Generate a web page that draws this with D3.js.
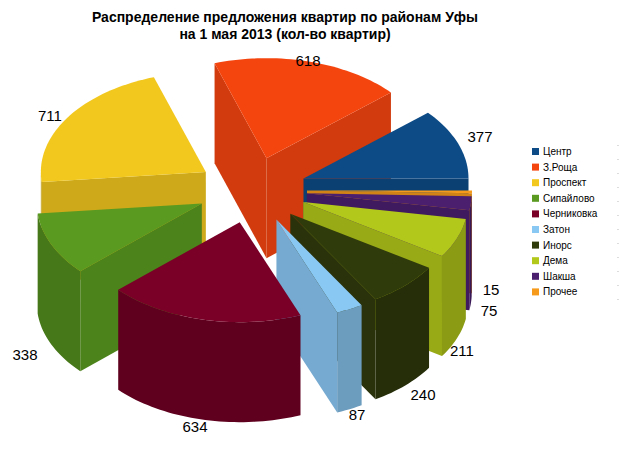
<!DOCTYPE html>
<html><head><meta charset="utf-8">
<script src="https://cdn.jsdelivr.net/npm/d3@7"></script>
<style>body{margin:0;background:#fff}</style>
</head><body>
<svg id="chart" width="623" height="454"></svg>
<script>
const districts = ["Центр", "З.Роща", "Проспект", "Сипайлово", "Черниковка", "Затон", "Инорс", "Дема", "Шакша", "Прочее"];
const flats = [377, 618, 711, 338, 634, 87, 240, 211, 75, 15];
const palette = ["#0d4b86", "#f5450f", "#f2c81e", "#5a9a20", "#7a0027", "#8ac8f4", "#303b0c", "#b2c81a", "#4b1f6e", "#f59a1a"];

const svg = d3.select("#chart");
const cx = 252, cy = 190, rx = 165, ry = 100, depth = 100, boom = 55;

const color = d3.scaleOrdinal().domain(districts).range(palette);

// angles go counter-clockwise from east, in radians
const pie = d3.pie().sort(null).value(d => d.v).startAngle(0).endAngle(2 * Math.PI);
const slices = pie(districts.map((n, i) => ({n: n, v: flats[i]})));

slices.forEach(s => {
    s.mid = (s.startAngle + s.endAngle) / 2;
    s.ox = cx + boom * Math.cos(s.mid);
    s.oy = cy - boom * 0.6 * Math.sin(s.mid);
});

function pt(s, a, dz) {
    return [s.ox + rx * Math.cos(a), s.oy - ry * Math.sin(a) + (dz || 0)];
}
function arcPts(s, a0, a1, dz) {
    const n = Math.max(2, Math.ceil((a1 - a0) / 0.03));
    return d3.range(n + 1).map(k => pt(s, a0 + (a1 - a0) * k / n, dz));
}
const line = d3.line();

// back slices first
const order = slices.slice().sort((a, b) => a.oy - ry * Math.sin(a.mid) - (b.oy - ry * Math.sin(b.mid)));

order.forEach(s => {
    const c = color(s.data.n);
    const side = d3.color(c).darker(0.7);
    const g = svg.append("g");
    // radial walls that face the viewer
    [[s.startAngle, s.startAngle - Math.PI / 2], [s.endAngle, s.endAngle + Math.PI / 2]].forEach(([a, nrm]) => {
        if (Math.sin(nrm) < 0) {
            const p = pt(s, a), q = pt(s, a, depth);
            g.append("path")
                .attr("d", line([[s.ox, s.oy], p, q, [s.ox, s.oy + depth]]) + "Z")
                .attr("fill", d3.color(c).darker(0.45));
        }
    });
    // outer wall, front half only
    const a0 = Math.max(s.startAngle, Math.PI), a1 = Math.min(s.endAngle, 2 * Math.PI);
    if (a1 > a0) {
        const pts = arcPts(s, a0, a1, 0).concat(arcPts(s, a0, a1, depth).reverse());
        g.append("path").attr("d", line(pts) + "Z").attr("fill", side);
    }
    // top
    const top = [[s.ox, s.oy]].concat(arcPts(s, s.startAngle, s.endAngle, 0));
    g.append("path").attr("d", line(top) + "Z").attr("fill", c);
});

// value labels
const labelPos = [[480, 138], [308, 62], [50, 117], [25, 356], [195, 428], [357, 416], [423, 396], [462, 352], [489, 312], [491, 291]];
svg.selectAll(".val").data(slices).enter().append("text")
    .attr("class", "val")
    .attr("x", (d, i) => labelPos[i][0])
    .attr("y", (d, i) => labelPos[i][1])
    .attr("text-anchor", "middle")
    .attr("dominant-baseline", "middle")
    .style("font", "15px 'Liberation Sans', Arial")
    .text(d => d.data.v);

// title
svg.append("text").attr("x", 285).attr("y", 22).attr("text-anchor", "middle")
    .style("font", "bold 14px 'Liberation Sans', Arial").text("Распределение предложения  квартир по районам Уфы");
svg.append("text").attr("x", 285).attr("y", 39).attr("text-anchor", "middle")
    .style("font", "bold 14px 'Liberation Sans', Arial").text("на 1 мая 2013 (кол-во квартир)");

// legend
const legend = svg.append("g").attr("transform", "translate(532,148)");
districts.forEach((n, i) => {
    legend.append("rect").attr("x", 0).attr("y", i * 15.6).attr("width", 7).attr("height", 7).attr("fill", color(n));
    legend.append("text").attr("x", 11).attr("y", i * 15.6 + 7).style("font", "10px 'Liberation Sans', Arial").text(n);
});
svg.append("line").attr("x1", 618).attr("x2", 618).attr("y1", 145).attr("y2", 310)
    .attr("stroke", "#bbb").attr("stroke-dasharray", "1,13");
</script>
</body></html>
